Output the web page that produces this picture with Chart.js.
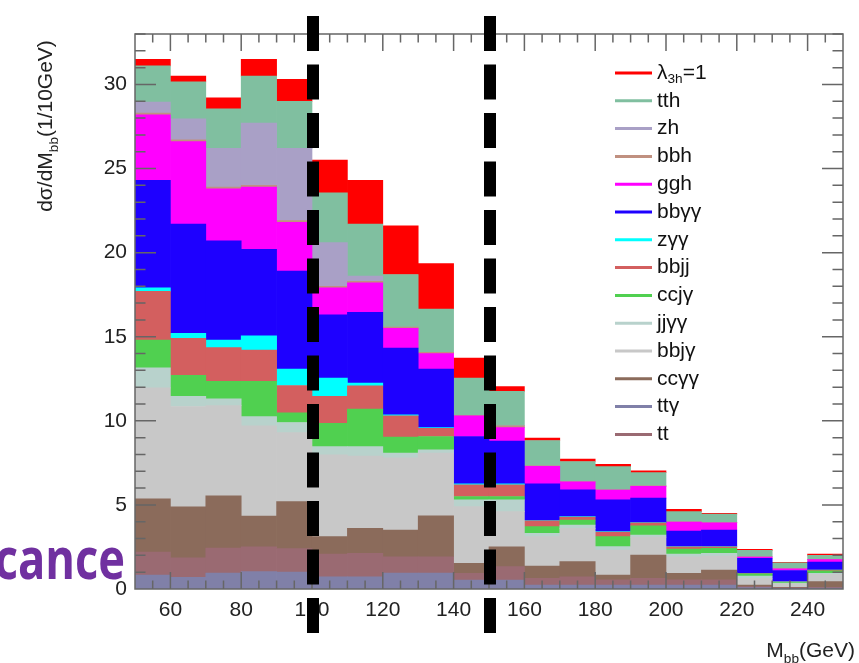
<!DOCTYPE html>
<html>
<head>
<meta charset="utf-8">
<script src="https://cdn.jsdelivr.net/npm/chart.js@4.4.1/dist/chart.umd.min.js"></script>
<style>
  html, body { margin: 0; padding: 0; background: #fff; }
  #wrap { width: 859px; height: 663px; }
</style>
</head>
<body>
<div id="wrap"><canvas id="myChart" width="859" height="663"></canvas></div>
<script>
// bin centres of the M_bb histogram (10 GeV bins, 50-250 GeV)
const binCenters = [55, 65, 75, 85, 95, 105, 115, 125, 135, 145, 155, 165, 175, 185, 195, 205, 215, 225, 235, 245];
const xTickLabels = [60, 80, 100, 120, 140, 160, 180, 200, 220, 240];
const yTickLabels = [0, 5, 10, 15, 20, 25, 30];
const cutLines = [100, 150];

// stacked contributions per bin, bottom of the stack first
const ttgamma = [0.83, 0.7, 0.95, 1.03, 1.0, 0.73, 0.73, 0.95, 0.95, 0.53, 0.53, 0.24, 0.24, 0.24, 0.24, 0.24, 0.24, 0.08, 0.04, 0.05];
const tt      = [1.37, 1.15, 1.49, 1.47, 1.4, 1.35, 1.39, 0.97, 0.97, 0.4, 0.8, 0.4, 0.49, 0.3, 0.4, 0.3, 0.3, 0.06, 0.03, 0.05];
const ccaa    = [3.16, 3.03, 3.1, 1.84, 2.8, 1.03, 1.48, 1.59, 2.43, 0.6, 1.17, 0.73, 0.9, 0.29, 1.38, 0.39, 0.59, 0.1, 0.03, 0.34];
const bbja    = [6.6, 5.97, 5.36, 5.36, 4.1, 4.87, 4.3, 4.29, 3.73, 3.37, 2.1, 1.74, 1.97, 1.49, 1.06, 0.99, 0.83, 0.4, 0.2, 0.43];
const jjaa    = [1.19, 0.6, 0.4, 0.55, 0.6, 0.49, 0.57, 0.28, 0.19, 0.4, 0.7, 0.2, 0.2, 0.2, 0.13, 0.16, 0.16, 0.13, 0.05, 0.06];
const ccja    = [1.65, 1.25, 1.05, 2.1, 0.57, 1.38, 2.23, 0.95, 0.8, 0.2, 0.2, 0.4, 0.3, 0.59, 0.54, 0.3, 0.3, 0.13, 0.05, 0.15];
const bbjj    = [2.9, 2.2, 2.0, 1.85, 1.63, 1.6, 1.38, 1.27, 0.49, 0.7, 0.7, 0.34, 0.18, 0.28, 0.18, 0.12, 0.08, 0.02, 0.03, 0.04];
const zaa     = [0.2, 0.3, 0.45, 0.86, 0.98, 1.09, 0.16, 0.06, 0.04, 0.05, 0.05, 0.02, 0.02, 0.02, 0.02, 0.02, 0.02, 0.01, 0.01, 0.01];
const bbaa    = [6.4, 6.5, 5.9, 5.14, 5.82, 3.76, 4.21, 3.97, 3.48, 2.82, 2.55, 2.18, 1.6, 1.89, 1.45, 0.93, 0.99, 0.9, 0.66, 0.47];
const ggh     = [3.9, 4.9, 3.1, 3.7, 2.9, 1.6, 1.75, 1.17, 0.92, 1.23, 0.8, 1.05, 0.47, 0.58, 0.71, 0.53, 0.42, 0.07, 0.1, 0.15];
const bbh     = [0.1, 0.1, 0.1, 0.1, 0.1, 0.1, 0.1, 0.08, 0.07, 0.02, 0.1, 0.02, 0.02, 0.02, 0.02, 0.02, 0.02, 0.02, 0.02, 0.02];
const zh      = [0.65, 1.26, 2.3, 3.7, 4.3, 2.6, 0.3, 0, 0, 0, 0, 0, 0, 0, 0, 0, 0, 0, 0, 0];
const tth     = [2.15, 2.19, 2.35, 2.8, 2.8, 2.95, 3.1, 3.12, 2.58, 2.22, 2.05, 1.51, 1.19, 1.38, 0.79, 0.6, 0.5, 0.38, 0.33, 0.23];
const lambda1 = [0.4, 0.35, 0.65, 1.0, 1.3, 1.95, 2.6, 2.9, 2.7, 1.19, 0.29, 0.14, 0.14, 0.14, 0.1, 0.14, 0.05, 0.06, 0.04, 0.08];

// [label parts, values, colour]; label parts: [text, isSubscript]
const processes = [
  [[['ttγ', false]], ttgamma, '#8080a8'],
  [[['tt', false]], tt, '#9a6a72'],
  [[['ccγγ', false]], ccaa, '#8b6b5b'],
  [[['bbjγ', false]], bbja, '#c8c8c8'],
  [[['jjγγ', false]], jjaa, '#b8d2cc'],
  [[['ccjγ', false]], ccja, '#50d050'],
  [[['bbjj', false]], bbjj, '#d35f5f'],
  [[['zγγ', false]], zaa, '#00ffff'],
  [[['bbγγ', false]], bbaa, '#1e00ff'],
  [[['ggh', false]], ggh, '#ff00ff'],
  [[['bbh', false]], bbh, '#c09080'],
  [[['zh', false]], zh, '#a9a0c6'],
  [[['tth', false]], tth, '#80bfa0'],
  [[['λ', false], ['3h', true], ['=1', false]], lambda1, '#ff0000']
];
// legend rows, top to bottom (indices into processes)
const legendOrder = [13, 12, 11, 10, 9, 8, 7, 6, 5, 4, 3, 2, 0, 1];

const FONT = '"Liberation Sans", Arial, sans-serif';

// draws text made of normal and subscript pieces, returns its width
function richText(ctx, parts, x, y, size, measureOnly) {
  let w = 0;
  for (const [t, sub] of parts) {
    const s = sub ? size * 0.65 : size;
    ctx.font = s + 'px ' + FONT;
    if (!measureOnly) ctx.fillText(t, x + w, sub ? y + size * 0.3 : y);
    w += ctx.measureText(t).width;
  }
  return w;
}

const decorations = {
  id: 'decorations',
  afterDatasetsDraw(chart) {
    const {ctx, chartArea: a, scales: {x, y}} = chart;
    ctx.save();
    ctx.strokeStyle = '#666';
    ctx.lineWidth = 1.5;
    // inner ticks on all four sides
    ctx.beginPath();
    for (let v = 55; v <= 245; v += 5) {
      const px = x.getPixelForValue(v);
      const len = (v % 20 === 0) ? 17 : 8.5;
      ctx.moveTo(px, a.bottom); ctx.lineTo(px, a.bottom - len);
      ctx.moveTo(px, a.top); ctx.lineTo(px, a.top + len);
    }
    for (let v = 1; v <= 33; v++) {
      const py = y.getPixelForValue(v);
      const len = (v % 5 === 0) ? 21 : 10.5;
      ctx.moveTo(a.left, py); ctx.lineTo(a.left + len, py);
      ctx.moveTo(a.right, py); ctx.lineTo(a.right - len, py);
    }
    ctx.stroke();
    ctx.strokeRect(a.left, a.top, a.right - a.left, a.bottom - a.top);

    // legend
    const legendX = 615, legendY = 73, step = 27.8;
    legendOrder.forEach((idx, i) => {
      const [parts, , color] = processes[idx];
      const ly = legendY + i * step;
      ctx.strokeStyle = color;
      ctx.lineWidth = 3;
      ctx.beginPath();
      ctx.moveTo(legendX, ly); ctx.lineTo(legendX + 37, ly);
      ctx.stroke();
      ctx.fillStyle = '#111';
      ctx.textBaseline = 'middle';
      ctx.textAlign = 'left';
      richText(ctx, parts, legendX + 42, ly, 21);
    });

    // axis titles
    ctx.fillStyle = '#222';
    ctx.textBaseline = 'alphabetic';
    const yTitle = [['dσ/dM', false], ['bb', true], ['(1/10GeV)', false]];
    const yw = richText(ctx, yTitle, 0, 0, 21, true);
    ctx.save();
    ctx.translate(52, 126);
    ctx.rotate(-Math.PI / 2);
    richText(ctx, yTitle, -yw / 2, 0, 21);
    ctx.restore();
    const xTitle = [['M', false], ['bb', true], ['(GeV)', false]];
    const xw = richText(ctx, xTitle, 0, 0, 21, true);
    richText(ctx, xTitle, 855 - xw, 657, 21);

    // slide heading that runs into the figure
    ctx.save();
    ctx.fillStyle = '#7030a0';
    ctx.font = 'bold 58px "Open Sans", sans-serif';
    ctx.textAlign = 'right';
    ctx.translate(125, 579);
    ctx.scale(0.78, 1);
    ctx.fillText('Significance', 0, 0);
    ctx.restore();

    // mass window cuts
    ctx.strokeStyle = '#000';
    ctx.lineWidth = 12;
    ctx.setLineDash([35, 13.5]);
    cutLines.forEach(v => {
      const px = x.getPixelForValue(v) + 1;
      ctx.beginPath();
      ctx.moveTo(px, 16); ctx.lineTo(px, 633);
      ctx.stroke();
    });
    ctx.restore();
  }
};

const ctx = document.getElementById('myChart').getContext('2d');
const myChart = new Chart(ctx, {
  type: 'bar',
  data: {
    datasets: processes.map(([parts, values, color]) => ({
      label: parts.map(p => p[0]).join(''),
      data: values.map((v, i) => ({x: binCenters[i], y: v})),
      backgroundColor: color,
      borderWidth: 0,
      barPercentage: 1,
      categoryPercentage: 1
    }))
  },
  options: {
    responsive: false,
    animation: false,
    devicePixelRatio: 1,
    layout: { padding: { left: 0, right: 16, top: 34, bottom: 0 } },
    plugins: { legend: { display: false }, tooltip: { enabled: false } },
    scales: {
      x: {
        type: 'linear',
        stacked: true,
        offset: false,
        min: 50,
        max: 250,
        grid: { display: false, drawTicks: false },
        border: { display: false },
        afterBuildTicks: s => { s.ticks = xTickLabels.map(v => ({value: v})); },
        afterFit: s => { s.height = 74; },
        ticks: { autoSkip: false, maxRotation: 0, padding: 9, color: '#222', font: { family: FONT, size: 21 } }
      },
      y: {
        stacked: true,
        min: 0,
        max: 33,
        grid: { display: false, drawTicks: false },
        border: { display: false },
        afterBuildTicks: s => { s.ticks = yTickLabels.map(v => ({value: v})); },
        afterFit: s => { s.width = 135; },
        ticks: { padding: 8, color: '#222', font: { family: FONT, size: 21 } }
      }
    }
  },
  plugins: [decorations]
});
</script>
</body>
</html>
